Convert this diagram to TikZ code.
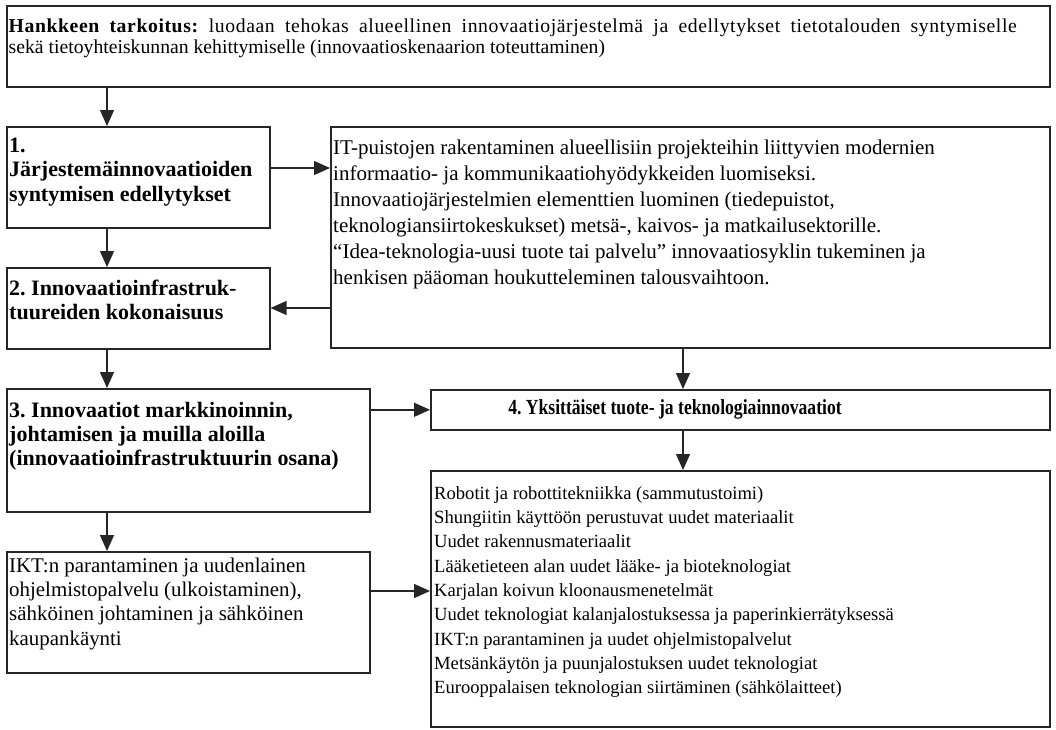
\documentclass[tikz,border=0pt]{standalone}
\usepackage{fontspec}
\setmainfont{Liberation Serif}
\usepackage{graphicx}
\usetikzlibrary{arrows.meta,calc}
\frenchspacing
\begin{document}
\begin{tikzpicture}[x=1pt,y=-1pt,
  box/.style={draw=black!85, line width=1.6pt, rectangle, inner sep=0pt, anchor=north west},
  txt/.style={inner sep=0pt, anchor=north west, align=left},
  arr/.style={line width=1.4pt, draw=black!85, -{Triangle[length=16pt,width=14pt]}},
]
\useasboundingbox (0,0) rectangle (1056,729);
\fill[white] (0,0) rectangle (1056,729);

% boxes
\node[box, minimum width=1043pt, minimum height=81pt] (top) at (6,5) {};
\node[box, minimum width=263pt, minimum height=101pt] (b1) at (6,126) {};
\node[box, minimum width=719pt, minimum height=221pt] (it) at (330,126) {};
\node[box, minimum width=263pt, minimum height=81pt] (b2) at (6,267) {};
\node[box, minimum width=363pt, minimum height=123pt] (b3) at (6,388) {};
\node[box, minimum width=619pt, minimum height=40pt] (b4) at (430,389) {};
\node[box, minimum width=619pt, minimum height=256pt] (list) at (430,470) {};
\node[box, minimum width=363pt, minimum height=121pt] (b5) at (6,551) {};

% texts
\node[txt, text width=1008pt, align=justify, font=\fontsize{19.7}{21.5}\selectfont] (t0) at (8.5,16)
 {\rule{0pt}{16pt}{\addfontfeature{LetterSpace=3}\textbf{Hankkeen tarkoitus:} luodaan tehokas alueellinen innovaatiojärjestelmä ja edellytykset tietotalouden syntymiselle}\linebreak
  sekä tietoyhteiskunnan kehittymiselle (innovaatioskenaarion toteuttaminen)};

\node[txt, font=\bfseries\fontsize{22}{24.5}\selectfont] (t1) at (9,136)
 {\rule{0pt}{16pt}1.\\Järjestemäinnovaatioiden\\syntymisen edellytykset};

\node[txt, font=\fontsize{21}{26}\selectfont] (t2) at (333,138)
 {\rule{0pt}{16pt}IT-puistojen rakentaminen alueellisiin projekteihin liittyvien modernien\\
  informaatio- ja kommunikaatiohyödykkeiden luomiseksi.\\
  Innovaatiojärjestelmien elementtien luominen (tiedepuistot,\\
  teknologiansiirtokeskukset) metsä-, kaivos- ja matkailusektorille.\\
  “Idea-teknologia-uusi tuote tai palvelu” innovaatiosyklin tukeminen ja\\
  henkisen pääoman houkutteleminen talousvaihtoon.};

\node[txt, font=\bfseries\fontsize{22}{24.5}\selectfont] (t3) at (9,279)
 {\rule{0pt}{16pt}2. Innovaatioinfrastruk-\\tuureiden kokonaisuus};

\node[txt, font=\bfseries\fontsize{22}{24}\selectfont] (t4) at (9,401)
 {\rule{0pt}{16pt}3. Innovaatiot markkinoinnin,\\johtamisen ja muilla aloilla\\(innovaatioinfrastruktuurin osana)};

\node[inner sep=0pt, font=\bfseries\fontsize{21.5}{21.5}\selectfont] (t5) at (675,409)
 {\scalebox{0.82}[1]{4. Yksittäiset tuote- ja teknologiainnovaatiot}};

\node[txt, font=\fontsize{20.9}{24.3}\selectfont] (t6) at (9,556)
 {\rule{0pt}{16pt}IKT:n parantaminen ja uudenlainen\\
  ohjelmistopalvelu (ulkoistaminen),\\
  sähköinen johtaminen ja sähköinen\\
  kaupankäynti};

\node[txt, font=\fontsize{18.6}{24.3}\selectfont] (t7) at (434,483)
 {\rule{0pt}{16pt}Robotit ja robottitekniikka (sammutustoimi)\\
  Shungiitin käyttöön perustuvat uudet materiaalit\\
  Uudet rakennusmateriaalit\\
  Lääketieteen alan uudet lääke- ja bioteknologiat\\
  Karjalan koivun kloonausmenetelmät\\
  Uudet teknologiat kalanjalostuksessa ja paperinkierrätyksessä\\
  IKT:n parantaminen ja uudet ohjelmistopalvelut\\
  Metsänkäytön ja puunjalostuksen uudet teknologiat\\
  Eurooppalaisen teknologian siirtäminen (sähkölaitteet)};

% helper coordinates
\coordinate (cx) at (107,0);
\coordinate (cx2) at (683,0);
\coordinate (cy1) at (0,168);
\coordinate (cy2) at (0,308);
\coordinate (cy5) at (0,591);

% connectors
\draw[arr] (top.south -| cx) -- (b1.north -| cx);
\draw[arr] (b1.south -| cx) -- (b2.north -| cx);
\draw[arr] (b2.south -| cx) -- (b3.north -| cx);
\draw[arr] (b3.south -| cx) -- (b5.north -| cx);
\draw[arr] (b1.east |- cy1) -- (it.west |- cy1);
\draw[arr] (it.west |- cy2) -- (b2.east |- cy2);
\draw[arr] (b3.east |- b4.west) -- (b4.west);
\draw[arr] (it.south -| cx2) -- (b4.north -| cx2);
\draw[arr] (b4.south -| cx2) -- (list.north -| cx2);
\draw[arr] (b5.east |- cy5) -- (list.west |- cy5);
\end{tikzpicture}
\end{document}
